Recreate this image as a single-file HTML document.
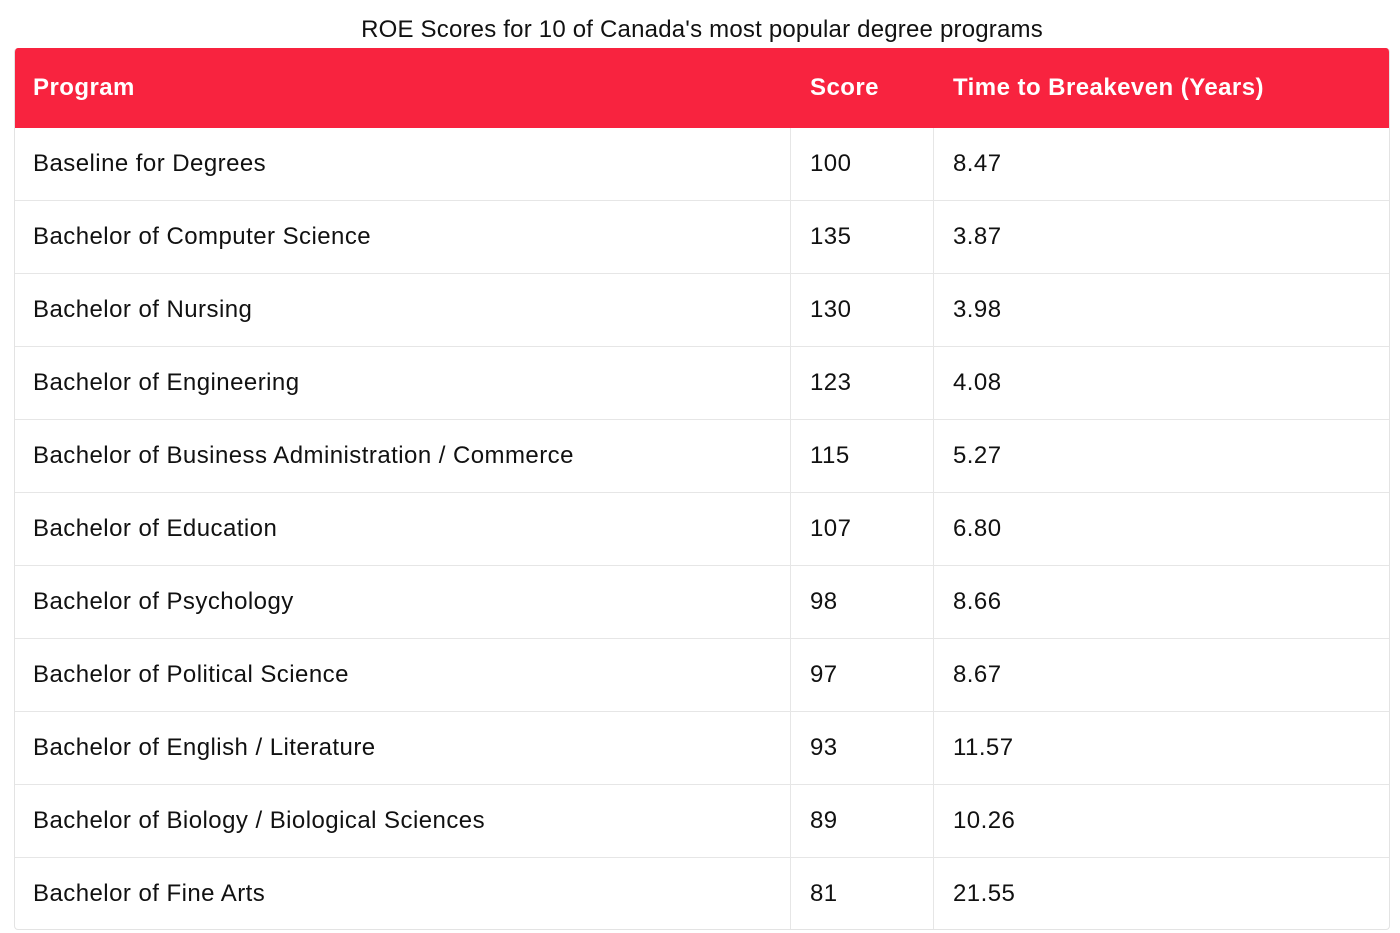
<!DOCTYPE html>
<html><head><meta charset="utf-8"><style>
body{margin:0;width:1400px;height:933px;background:#fff;font-family:"Liberation Sans",sans-serif;color:#111;position:relative;overflow:hidden}
.title{position:absolute;top:16px;left:0;width:1404px;text-align:center;font-size:24px;letter-spacing:0.2px}
.tbl{position:absolute;left:14px;top:48px;width:1376px;height:882px;border:1px solid #e3e3e3;border-top:none;border-radius:4px;overflow:hidden;box-sizing:border-box}
.hdr{position:absolute;left:0;top:0;width:100%;height:80px;background:#f8233f;}
.row{position:absolute;left:0;width:100%;height:73px;border-bottom:1px solid #e6e6e6;box-sizing:border-box}
.c{position:absolute;top:0;line-height:72px;font-size:24px;white-space:nowrap;letter-spacing:0.45px}
.hdr .c{color:#fff;font-weight:bold;line-height:80px}
.c1{left:18px}.c2{left:795px}.c3{left:938px}
.vl{position:absolute;top:80px;bottom:0;width:1px;background:#e6e6e6}
</style></head><body>
<div class="title">ROE Scores for 10 of Canada's most popular degree programs</div>
<div class="tbl">
<div class="hdr"><span class="c c1">Program</span><span class="c c2">Score</span><span class="c c3">Time to Breakeven (Years)</span></div>
<div class="row" style="top:80px"><span class="c c1">Baseline for Degrees</span><span class="c c2">100</span><span class="c c3">8.47</span></div>
<div class="row" style="top:153px"><span class="c c1">Bachelor of Computer Science</span><span class="c c2">135</span><span class="c c3">3.87</span></div>
<div class="row" style="top:226px"><span class="c c1">Bachelor of Nursing</span><span class="c c2">130</span><span class="c c3">3.98</span></div>
<div class="row" style="top:299px"><span class="c c1">Bachelor of Engineering</span><span class="c c2">123</span><span class="c c3">4.08</span></div>
<div class="row" style="top:372px"><span class="c c1">Bachelor of Business Administration / Commerce</span><span class="c c2">115</span><span class="c c3">5.27</span></div>
<div class="row" style="top:445px"><span class="c c1">Bachelor of Education</span><span class="c c2">107</span><span class="c c3">6.80</span></div>
<div class="row" style="top:518px"><span class="c c1">Bachelor of Psychology</span><span class="c c2">98</span><span class="c c3">8.66</span></div>
<div class="row" style="top:591px"><span class="c c1">Bachelor of Political Science</span><span class="c c2">97</span><span class="c c3">8.67</span></div>
<div class="row" style="top:664px"><span class="c c1">Bachelor of English / Literature</span><span class="c c2">93</span><span class="c c3">11.57</span></div>
<div class="row" style="top:737px"><span class="c c1">Bachelor of Biology / Biological Sciences</span><span class="c c2">89</span><span class="c c3">10.26</span></div>
<div class="row" style="top:810px;border-bottom:none"><span class="c c1">Bachelor of Fine Arts</span><span class="c c2">81</span><span class="c c3">21.55</span></div>
<div class="vl" style="left:775px"></div>
<div class="vl" style="left:918px"></div>
</div>
</body></html>
